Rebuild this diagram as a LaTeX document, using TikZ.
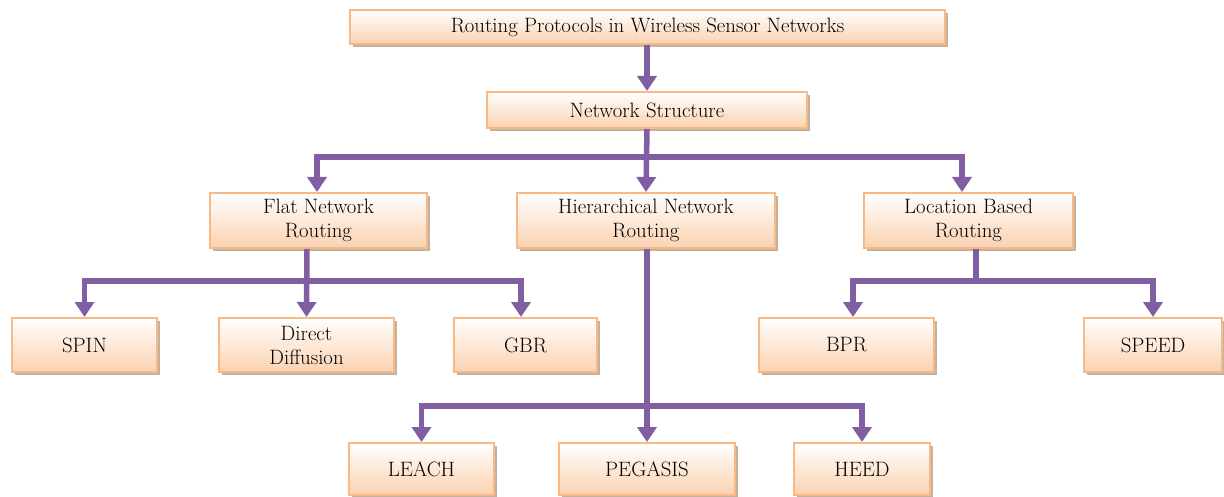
\documentclass[tikz,border=0pt]{standalone}
\usepackage{fontspec}
\usetikzlibrary{arrows.meta,shadows}
\definecolor{conncol}{RGB}{127,95,162}
\definecolor{boxedge}{RGB}{248,185,135}
\definecolor{boxfill}{RGB}{251,210,176}
\definecolor{shadowcol}{RGB}{190,170,150}
\begin{document}
\begin{tikzpicture}[x=1pt,y=-1pt,
  box/.style={rectangle, draw=boxedge, line width=2pt, top color=white, bottom color=boxfill,
    font=\rmfamily\fontsize{20.8}{24}\selectfont, text=black, align=center, inner sep=0pt,
    drop shadow={shadow xshift=3pt, shadow yshift=-3pt, fill=shadowcol, opacity=0.9}},
  conn/.style={draw=conncol, line width=5.5pt, -{Triangle[width=19pt,length=15pt]}},
  bar/.style={draw=conncol, line width=5.5pt}]
\useasboundingbox (0,0) rectangle (1224,497);
% boxes
\node[box, minimum width=595pt, minimum height=34pt] (top) at (647.5,27) {Routing Protocols in Wireless Sensor Networks};
\node[box, minimum width=320pt, minimum height=36pt] (ns) at (647,110) {Network Structure};
\node[box, minimum width=217pt, minimum height=55pt] (flat) at (318.5,220.5) {Flat Network\\Routing};
\node[box, minimum width=258pt, minimum height=55pt] (hier) at (646,220.5) {Hierarchical Network\\Routing};
\node[box, minimum width=209pt, minimum height=55pt] (loc) at (968.5,220.5) {Location Based\\Routing};
\node[box, minimum width=145pt, minimum height=54pt] (spin) at (84.5,345) {SPIN};
\node[box, minimum width=175pt, minimum height=54pt] (direct) at (306.5,345) {Direct\\Diffusion};
\node[box, minimum width=143pt, minimum height=54pt] (gbr) at (525.5,345) {GBR};
\node[box, minimum width=175pt, minimum height=54pt] (bpr) at (846.5,345) {BPR};
\node[box, minimum width=138pt, minimum height=54pt] (speed) at (1153,345) {SPEED};
\node[box, minimum width=145pt, minimum height=52pt] (leach) at (421.5,469) {LEACH};
\node[box, minimum width=176pt, minimum height=52pt] (pegasis) at (647,469) {PEGASIS};
\node[box, minimum width=136pt, minimum height=52pt] (heed) at (862,469) {HEED};
% bus points
\coordinate (nb) at (647,157);
\coordinate (fb) at (307,281);
\coordinate (lb) at (976,281);
\coordinate (hb) at (647,406);
% connectors
\draw[conn] (top.south -| ns.north) -- (ns.north);
\draw[conn] (ns.south) -- (hier.north);
\draw[conn] (nb) -| ([xshift=-1.5pt]flat.north);
\draw[conn] (nb) -| ([xshift=-6.5pt]loc.north);
\draw[conn] (flat.south -| fb) -- (direct.north);
\draw[conn] (fb) -| (spin.north);
\draw[conn] (fb) -| ([xshift=-4.5pt]gbr.north);
\draw[bar] (loc.south -| lb) -- (lb);
\draw[conn] (lb) -| ([xshift=6.5pt]bpr.north);
\draw[conn] (lb) -| (speed.north);
\draw[conn] (hier.south -| hb) -- (pegasis.north);
\draw[conn] (hb) -| (leach.north);
\draw[conn] (hb) -| (heed.north);
\end{tikzpicture}
\end{document}
